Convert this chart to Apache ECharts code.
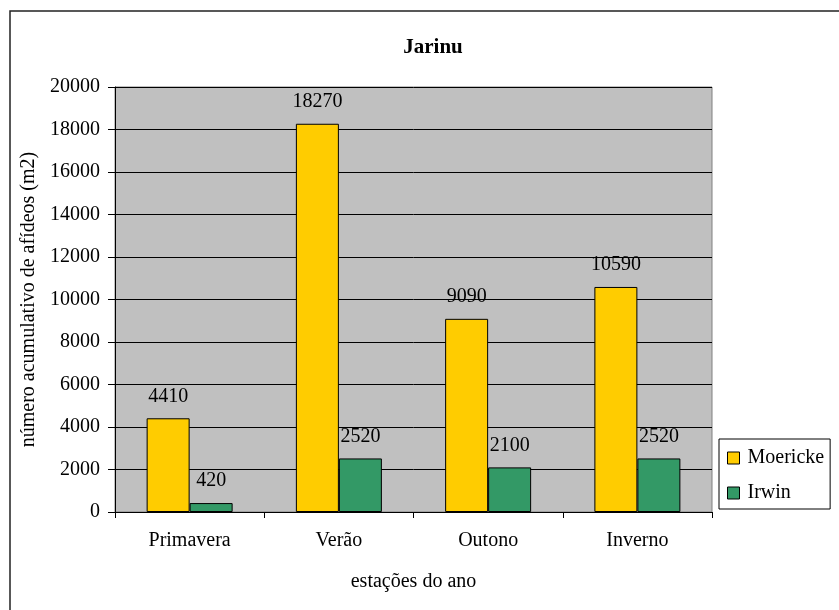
<!DOCTYPE html>
<html>
<head>
<meta charset="utf-8">
<script src="https://cdn.jsdelivr.net/npm/echarts@6/dist/echarts.min.js"></script>
<style>
html,body{margin:0;padding:0;background:#fff;}
#c{width:839px;height:610px;}
</style>
</head>
<body>
<div id="c"></div>
<script>
const categories = ['Primavera', 'Verão', 'Outono', 'Inverno'];
const moericke = [4410, 18270, 9090, 10590];
const irwin = [420, 2520, 2100, 2520];
const yTicks = [0, 2000, 4000, 6000, 8000, 10000, 12000, 14000, 16000, 18000, 20000];

const FONT = '"Liberation Serif", "Times New Roman", serif';
const FS = 20;
const chart = echarts.init(document.getElementById('c'), null, {renderer: 'canvas'});
const labelStyle = {show: true, position: 'top', distance: 12, color: '#000', fontFamily: FONT, fontSize: FS};
chart.setOption({
  animation: false,
  backgroundColor: '#fff',
  textStyle: {fontFamily: FONT},
  title: {
    text: 'Jarinu', left: 428, top: 32, textAlign: 'center',
    textStyle: {fontFamily: FONT, fontSize: 21, fontWeight: 'bold', color: '#000'}
  },
  graphic: [{
    type: 'rect', shape: {x: 10, y: 11, width: 840, height: 620},
    style: {fill: 'none', stroke: '#222', lineWidth: 1.5}, z: -1
  }],
  legend: {
    orient: 'vertical', left: 719, top: 439,
    padding: [9, 6, 6, 8], itemGap: 15,
    backgroundColor: '#fff', borderColor: '#000', borderWidth: 1,
    itemWidth: 12, itemHeight: 12, icon: 'rect',
    itemStyle: {borderColor: '#000', borderWidth: 1},
    textStyle: {fontFamily: FONT, fontSize: FS, lineHeight: 20, color: '#000', padding: [0, 0, 0, 3]},
    data: ['Moericke', 'Irwin']
  },
  grid: {
    left: 115, top: 87, right: 839 - 712, bottom: 610 - 512,
    show: true, backgroundColor: '#C0C0C0', borderColor: '#808080', borderWidth: 1,
    containLabel: false
  },
  xAxis: {
    type: 'category', data: categories,
    name: 'estações do ano', nameLocation: 'middle', nameGap: 60,
    nameTextStyle: {fontFamily: FONT, fontSize: FS, color: '#000'},
    axisLine: {lineStyle: {color: '#000', width: 1}},
    axisTick: {show: true, length: 6, lineStyle: {color: '#000'}, alignWithLabel: false},
    axisLabel: {fontFamily: FONT, fontSize: FS, color: '#000', margin: 19},
    splitLine: {show: false}
  },
  yAxis: {
    type: 'value', min: yTicks[0], max: yTicks[yTicks.length - 1], interval: 2000,
    name: 'número acumulativo de afídeos (m2)', nameLocation: 'middle', nameGap: 74,
    nameTextStyle: {fontFamily: FONT, fontSize: FS, color: '#000'},
    axisLine: {show: true, lineStyle: {color: '#000', width: 1}},
    axisTick: {show: true, length: 7, inside: false, lineStyle: {color: '#000'}},
    axisLabel: {fontFamily: FONT, fontSize: FS, color: '#000', margin: 15, formatter: v => String(v)},
    splitLine: {show: true, lineStyle: {color: '#000', width: 1}}
  },
  series: [
    {
      name: 'Moericke', type: 'bar', data: moericke, barWidth: 43, barGap: '0%',
      itemStyle: {color: '#FFCC00', borderColor: '#000', borderWidth: 1},
      label: labelStyle
    },
    {
      name: 'Irwin', type: 'bar', data: irwin, barWidth: 43, barGap: '0%',
      itemStyle: {color: '#339966', borderColor: '#000', borderWidth: 1},
      label: labelStyle
    }
  ]
});
</script>
</body>
</html>
